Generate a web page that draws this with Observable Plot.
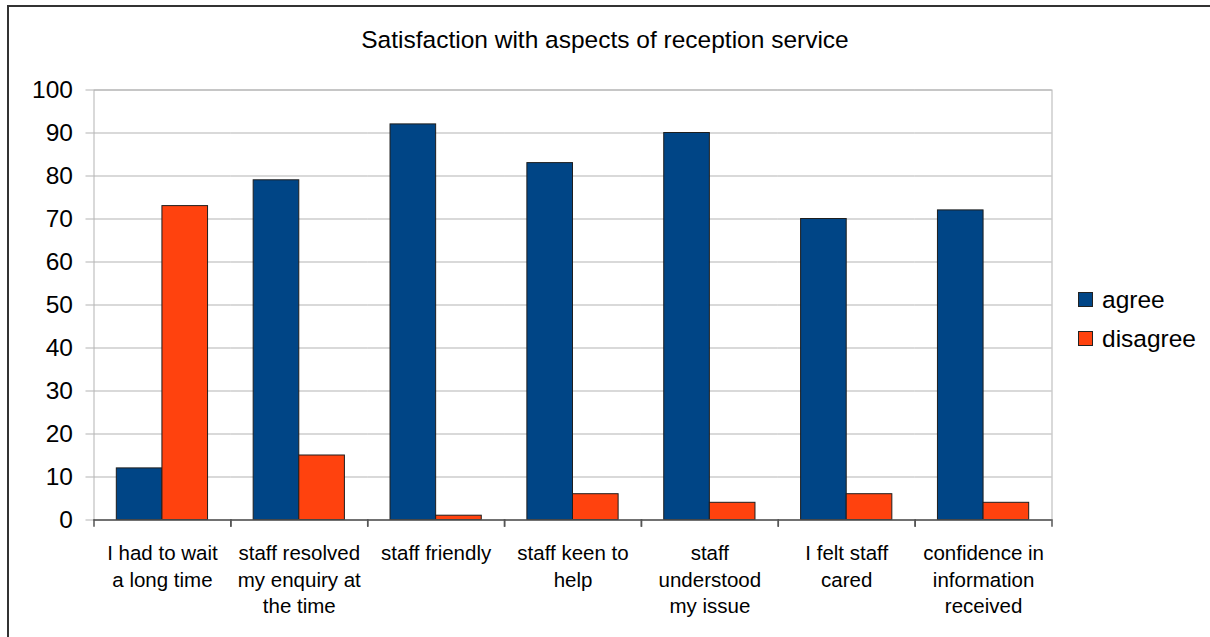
<!DOCTYPE html>
<html>
<head>
<meta charset="utf-8">
<script src="https://cdn.jsdelivr.net/npm/d3@7"></script>
<script src="https://cdn.jsdelivr.net/npm/@observablehq/plot@0.6"></script>
<style>
  html, body { margin: 0; padding: 0; background: #fff; }
  body { font-family: "Liberation Sans", Arial, sans-serif; color: #000; }
  #chart { position: relative; width: 1210px; height: 637px; overflow: hidden; }
  #border { position: absolute; left: 7px; top: 5px; width: 1300px; height: 700px;
            border-left: 2px solid #333; border-top: 2px solid #333; box-sizing: border-box; }
  #title { box-sizing: border-box; height: 60px; padding-top: 26px; text-align: center;
           font-size: 24.5px; line-height: normal; white-space: nowrap; }
  #plot { position: relative; }
  .legend-swatch { position: absolute; width: 15px; height: 15px; box-sizing: border-box;
                   border: 1px solid #222; }
  .legend-label { position: absolute; font-size: 24.5px; line-height: 24.5px; white-space: nowrap; }
</style>
</head>
<body>
<div id="chart">
  <div id="border"></div>
  <div id="title">Satisfaction with aspects of reception service</div>
  <div id="plot"></div>
  <div id="legend"></div>
</div>
<script>
// Survey questions about the reception service
const categories = [
  "I had to wait a long time",
  "staff resolved my enquiry at the time",
  "staff friendly",
  "staff keen to help",
  "staff understood my issue",
  "I felt staff cared",
  "confidence in information received"
];
// Axis labels, broken onto lines
const tickLabels = [
  "I had to wait\na long time",
  "staff resolved\nmy enquiry at\nthe time",
  "staff friendly",
  "staff keen to\nhelp",
  "staff\nunderstood\nmy issue",
  "I felt staff\ncared",
  "confidence in\ninformation\nreceived"
];
const series = ["agree", "disagree"];
const agree = [12, 79, 92, 83, 90, 70, 72];
const disagree = [73, 15, 1, 6, 4, 6, 4];
const colors = ["#004586", "#ff420e"];
const yTicks = [0, 10, 20, 30, 40, 50, 60, 70, 80, 90, 100];

const data = categories.flatMap((c, i) => [
  {category: c, series: "agree", value: agree[i]},
  {category: c, series: "disagree", value: disagree[i]}
]);
const labelOf = new Map(categories.map((c, i) => [c, tickLabels[i]]));

const plotHeight = 577;
const chart = Plot.plot({
  width: 1210,
  height: plotHeight,
  marginTop: 29.5,
  marginBottom: 117.5,
  marginLeft: 93.5,
  marginRight: 158.5,
  style: {fontFamily: "Liberation Sans, Arial, sans-serif", color: "#000", background: "transparent"},
  fx: {domain: categories, padding: 0, round: false},
  x: {domain: series, paddingInner: 0, paddingOuter: 0.5, round: false, axis: null},
  y: {domain: [0, 100]},
  color: {domain: series, range: colors},
  marks: [
    Plot.gridY(yTicks, {stroke: "#b3b3b3", strokeOpacity: 1}),
    Plot.frame({stroke: "#b3b3b3", facet: "super"}),
    Plot.axisY(yTicks, {tickSize: 8, tickPadding: 13, stroke: "#b3b3b3", fill: "#000",
                        fontSize: 24.5, label: null}),
    Plot.barY(data, {fx: "category", x: "series", y: "value", fill: "series",
                     stroke: "#1e1e1e", strokeWidth: 1}),
    Plot.ruleY([0], {stroke: "#555", strokeWidth: 1.5}),
    // short ticks between the question groups
    Plot.frame({anchor: "left", stroke: "#555", strokeWidth: 1.5, insetTop: 430, insetBottom: -6}),
    Plot.frame({anchor: "right", stroke: "#555", strokeWidth: 1.5, insetTop: 430, insetBottom: -6}),
    Plot.axisFx({anchor: "bottom", tickSize: 0, tickPadding: 21, fontSize: 20.5, lineHeight: 1.3,
                 tickFormat: (d) => labelOf.get(d), label: null, fill: "#000"})
  ]
});
document.getElementById("plot").appendChild(chart);

// Legend on the right of the plot
const legend = document.getElementById("legend");
series.forEach((s, i) => {
  const sw = document.createElement("div");
  sw.className = "legend-swatch";
  sw.style.left = "1078px";
  sw.style.top = (292 + 39 * i) + "px";
  sw.style.background = colors[i];
  legend.appendChild(sw);
  const lb = document.createElement("div");
  lb.className = "legend-label";
  lb.style.left = "1102px";
  lb.style.top = (287.5 + 39 * i) + "px";
  lb.textContent = s;
  legend.appendChild(lb);
});
</script>
</body>
</html>
